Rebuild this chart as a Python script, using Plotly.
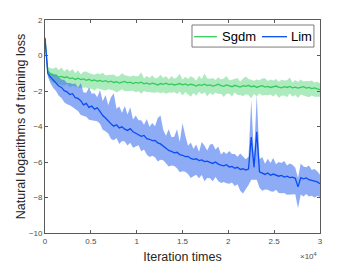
import plotly.graph_objects as go

# ---------------- data ----------------
iterations = list(range(0, 30001, 300))

sgdm_mean = [
    0.95, -0.85, -1.05, -1.15, -1.10, -1.22, -1.18, -1.25, -1.20, -1.30,
    -1.26, -1.35, -1.28, -1.36, -1.32, -1.40, -1.34, -1.42, -1.38, -1.45,
    -1.40, -1.47, -1.42, -1.50, -1.45, -1.52, -1.48, -1.55, -1.50, -1.46,
    -1.54, -1.50, -1.58, -1.52, -1.56, -1.50, -1.60, -1.55, -1.62, -1.56,
    -1.60, -1.66, -1.58, -1.62, -1.56, -1.64, -1.60, -1.66, -1.62, -1.58,
    -1.65, -1.60, -1.68, -1.62, -1.66, -1.72, -1.64, -1.68, -1.62, -1.70,
    -1.66, -1.72, -1.68, -1.62, -1.70, -1.74, -1.66, -1.70, -1.76, -1.68,
    -1.72, -1.78, -1.70, -1.74, -1.68, -1.76, -1.72, -1.80, -1.74, -1.70,
    -1.78, -1.74, -1.80, -1.76, -1.72, -1.78, -1.82, -1.76, -1.80, -1.74,
    -1.82, -1.78, -1.84, -1.80, -1.76, -1.84, -1.80, -1.86, -1.82, -1.88,
    -1.92,
]
sgdm_up_dev = [
    0.00, 0.20, 0.35, 0.40, 0.45, 0.40, 0.50, 0.35, 0.45, 0.40,
    0.50, 0.35, 0.45, 0.30, 0.40, 0.50, 0.35, 0.40, 0.30, 0.45,
    0.35, 0.50, 0.30, 0.40, 0.35, 0.45, 0.30, 0.40, 0.50, 0.35,
    0.40, 0.30, 0.45, 0.35, 0.40, 0.55, 0.30, 0.40, 0.35, 0.45,
    0.30, 0.40, 0.50, 0.35, 0.40, 0.30, 0.45, 0.35, 0.40, 0.55,
    0.30, 0.40, 0.35, 0.45, 0.40, 0.30, 0.50, 0.35, 0.60, 0.40,
    0.35, 0.45, 0.30, 0.40, 0.35, 0.45, 0.50, 0.30, 0.40, 0.35,
    0.45, 0.30, 0.40, 0.55, 0.35, 0.40, 0.30, 0.45, 0.35, 0.40,
    0.50, 0.30, 0.45, 0.35, 0.40, 0.30, 0.45, 0.35, 0.40, 0.50,
    0.30, 0.40, 0.35, 0.45, 0.30, 0.40, 0.35, 0.45, 0.30, 0.40,
    0.35,
]
sgdm_low_dev = [
    0.00, 0.25, 0.35, 0.40, 0.45, 0.40, 0.50, 0.45, 0.40, 0.50,
    0.45, 0.40, 0.55, 0.45, 0.50, 0.40, 0.55, 0.45, 0.60, 0.40,
    0.50, 0.45, 0.55, 0.40, 0.50, 0.45, 0.60, 0.45, 0.40, 0.55,
    0.45, 0.50, 0.40, 0.55, 0.45, 0.65, 0.40, 0.50, 0.45, 0.55,
    0.50, 0.40, 0.55, 0.45, 0.60, 0.45, 0.50, 0.40, 0.55, 0.45,
    0.60, 0.45, 0.50, 0.70, 0.45, 0.55, 0.40, 0.50, 0.45, 0.60,
    0.45, 0.50, 0.40, 0.55, 0.45, 0.60, 0.50, 0.45, 0.55, 0.40,
    0.50, 0.45, 0.60, 0.45, 0.55, 0.65, 0.45, 0.50, 0.40, 0.55,
    0.45, 0.50, 0.40, 0.55, 0.45, 0.60, 0.45, 0.50, 0.55, 0.40,
    0.50, 0.45, 0.55, 0.40, 0.50, 0.45, 0.55, 0.40, 0.50, 0.45,
    0.40,
]

lim_mean = [
    1.00, -1.00, -1.22, -1.38, -1.50, -1.72, -1.80, -1.98, -2.05, -2.20,
    -2.15, -2.38, -2.42, -2.55, -2.78, -2.70, -2.92, -2.85, -3.02, -2.95,
    -3.15, -3.38, -3.52, -3.70, -3.85, -3.98, -3.90, -4.08, -4.02, -4.15,
    -4.22, -4.12, -4.30, -4.38, -4.45, -4.55, -4.50, -4.68, -4.72, -4.80,
    -4.78, -4.92, -4.98, -5.10, -5.22, -5.35, -5.40, -5.48, -5.45, -5.58,
    -5.62, -5.70, -5.68, -5.80, -5.85, -5.82, -5.92, -5.88, -5.98, -5.95,
    -6.02, -6.08, -6.00, -6.12, -6.18, -6.22, -6.15, -6.28, -6.25, -6.35,
    -6.30, -6.42, -6.38, -6.45, -6.40, -4.60, -6.30, -4.30, -6.55, -6.62,
    -6.70, -6.62, -6.75, -6.68, -6.72, -6.80, -6.76, -6.85, -6.80, -6.88,
    -6.85, -6.92, -7.40, -6.88, -6.95, -6.90, -7.00, -7.05, -7.10, -7.12,
    -7.22,
]
lim_up_dev = [
    0.00, 0.15, 0.25, 0.35, 0.40, 0.50, 0.45, 0.60, 0.50, 0.65,
    0.55, 0.80, 0.60, 1.00, 0.70, 0.60, 1.10, 0.70, 0.90, 0.60,
    1.20, 0.80, 1.30, 0.90, 1.50, 1.85, 0.90, 1.20, 0.80, 1.30,
    0.90, 1.20, 0.70, 1.00, 0.80, 0.90, 0.60, 1.10, 0.70, 1.00,
    0.80, 1.40, 1.60, 0.90, 0.70, 1.20, 0.80, 0.90, 1.30, 0.70,
    1.80, 1.20, 0.60, 0.90, 0.60, 0.80, 0.50, 1.00, 0.90, 0.60,
    1.00, 1.10, 0.70, 1.00, 0.60, 0.80, 0.60, 0.90, 0.70, 0.80,
    0.60, 0.90, 0.70, 0.60, 0.70, 2.10, 0.60, 2.10, 0.70, 0.90,
    0.60, 0.80, 0.70, 0.90, 0.60, 0.80, 0.70, 0.90, 0.60, 0.80,
    0.70, 0.60, 0.50, 0.80, 0.70, 0.60, 0.80, 0.60, 0.70, 0.60,
    0.50,
]
lim_low_dev = [
    0.00, 0.20, 0.35, 0.45, 0.50, 0.55, 0.60, 0.65, 0.70, 0.60,
    0.75, 0.65, 0.70, 0.80, 0.60, 0.75, 0.70, 0.80, 0.65, 0.75,
    0.70, 0.80, 0.75, 0.70, 0.85, 0.80, 0.75, 0.90, 0.80, 0.70,
    0.85, 0.80, 0.90, 0.75, 0.60, 0.85, 0.80, 0.90, 1.00, 0.85,
    0.95, 1.05, 0.90, 0.80, 0.85, 0.90, 0.80, 0.75, 0.90, 1.00,
    0.90, 0.85, 1.00, 1.10, 0.95, 0.90, 1.00, 0.85, 1.10, 0.95,
    0.90, 1.00, 0.85, 0.95, 1.00, 0.90, 1.05, 0.95, 0.90, 1.00,
    0.95, 1.20, 1.40, 1.10, 0.90, 2.40, 0.70, 2.70, 0.90, 1.00,
    0.85, 0.95, 0.90, 1.00, 0.85, 0.95, 1.00, 0.90, 1.05, 0.95,
    1.00, 0.90, 1.20, 0.95, 1.00, 0.90, 0.95, 0.85, 0.90, 0.80,
    0.75,
]

series_names = ["Sgdm", "Lim"]
x_tick_vals = [0, 5000, 10000, 15000, 20000, 25000, 30000]
x_tick_text = ["0", "0.5", "1", "1.5", "2", "2.5", "3"]
y_tick_vals = [-10, -8, -6, -4, -2, 0, 2]

# ---------------- figure ----------------
sgdm_upper = [m + d for m, d in zip(sgdm_mean, sgdm_up_dev)]
sgdm_lower = [m - d for m, d in zip(sgdm_mean, sgdm_low_dev)]
lim_upper = [m + d for m, d in zip(lim_mean, lim_up_dev)]
lim_lower = [m - d for m, d in zip(lim_mean, lim_low_dev)]

GREEN = "#33cc5c"
BLUE = "#0a4cf5"
GREEN_FILL = "rgba(51,204,92,0.40)"
BLUE_FILL = "rgba(30,90,235,0.50)"
AXIS_COL = "#5a5a5a"
FONT = "Liberation Sans, Arial, sans-serif"

fig = go.Figure()
fig.add_trace(go.Scatter(x=iterations, y=sgdm_upper, mode="lines", line=dict(width=0),
                         showlegend=False, hoverinfo="skip"))
fig.add_trace(go.Scatter(x=iterations, y=sgdm_lower, mode="lines", line=dict(width=0),
                         fill="tonexty", fillcolor=GREEN_FILL, showlegend=False, hoverinfo="skip"))
fig.add_trace(go.Scatter(x=iterations, y=lim_upper, mode="lines", line=dict(width=0),
                         showlegend=False, hoverinfo="skip"))
fig.add_trace(go.Scatter(x=iterations, y=lim_lower, mode="lines", line=dict(width=0),
                         fill="tonexty", fillcolor=BLUE_FILL, showlegend=False, hoverinfo="skip"))
fig.add_trace(go.Scatter(x=iterations, y=sgdm_mean, mode="lines", name=series_names[0],
                         line=dict(color=GREEN, width=1.3), showlegend=False))
fig.add_trace(go.Scatter(x=iterations, y=lim_mean, mode="lines", name=series_names[1],
                         line=dict(color=BLUE, width=1.3), showlegend=False))

axis_common = dict(
    showline=True, linecolor=AXIS_COL, linewidth=0.8, mirror="ticks",
    ticks="inside", ticklen=3, tickwidth=0.8, tickcolor=AXIS_COL,
    showgrid=False, zeroline=False,
    tickfont=dict(size=8, color="#4d4d4d", family=FONT),
)

fig.update_layout(
    width=353, height=265,
    margin=dict(l=45, r=33, t=20, b=32, autoexpand=False),
    paper_bgcolor="white", plot_bgcolor="white",
    font=dict(family=FONT, color="#262626"),
    xaxis=dict(range=[0, 30000], tickvals=x_tick_vals, ticktext=x_tick_text,
               title=dict(text="Iteration times", font=dict(size=12.5, color="#262626"), standoff=7),
               **axis_common),
    yaxis=dict(range=[-10, 2], tickvals=y_tick_vals,
               title=dict(text="Natural logarithms of training loss", font=dict(size=12.5, color="#262626"), standoff=0),
               **axis_common),
    showlegend=False,
)

# legend drawn as a framed box with line samples and real text labels
fig.add_shape(type="rect", xref="paper", yref="paper", x0=0.5345, x1=0.978, y0=0.873, y1=0.9765,
              line=dict(color=AXIS_COL, width=0.8), fillcolor="white", layer="above")
fig.add_shape(type="line", xref="paper", yref="paper", x0=0.542, x1=0.625, y0=0.9216, y1=0.9216,
              line=dict(color=GREEN, width=1.3), layer="above")
fig.add_shape(type="line", xref="paper", yref="paper", x0=0.789, x1=0.88, y0=0.9216, y1=0.9216,
              line=dict(color=BLUE, width=1.3), layer="above")
fig.add_annotation(text=series_names[0], xref="paper", yref="paper", x=0.637, y=0.9216,
                   xanchor="left", yanchor="middle", showarrow=False,
                   font=dict(size=13, color="#000000", family=FONT))
fig.add_annotation(text=series_names[1], xref="paper", yref="paper", x=0.886, y=0.9216,
                   xanchor="left", yanchor="middle", showarrow=False,
                   font=dict(size=13, color="#000000", family=FONT))

fig.add_annotation(text="×10<sup>4</sup>", xref="paper", yref="paper", x=0.996, y=-0.108,
                   xanchor="right", yanchor="middle", showarrow=False,
                   font=dict(size=8, color="#4d4d4d", family=FONT))

fig.write_html("out.html", config={"displayModeBar": False},
               post_script="document.body.style.margin='0';")
